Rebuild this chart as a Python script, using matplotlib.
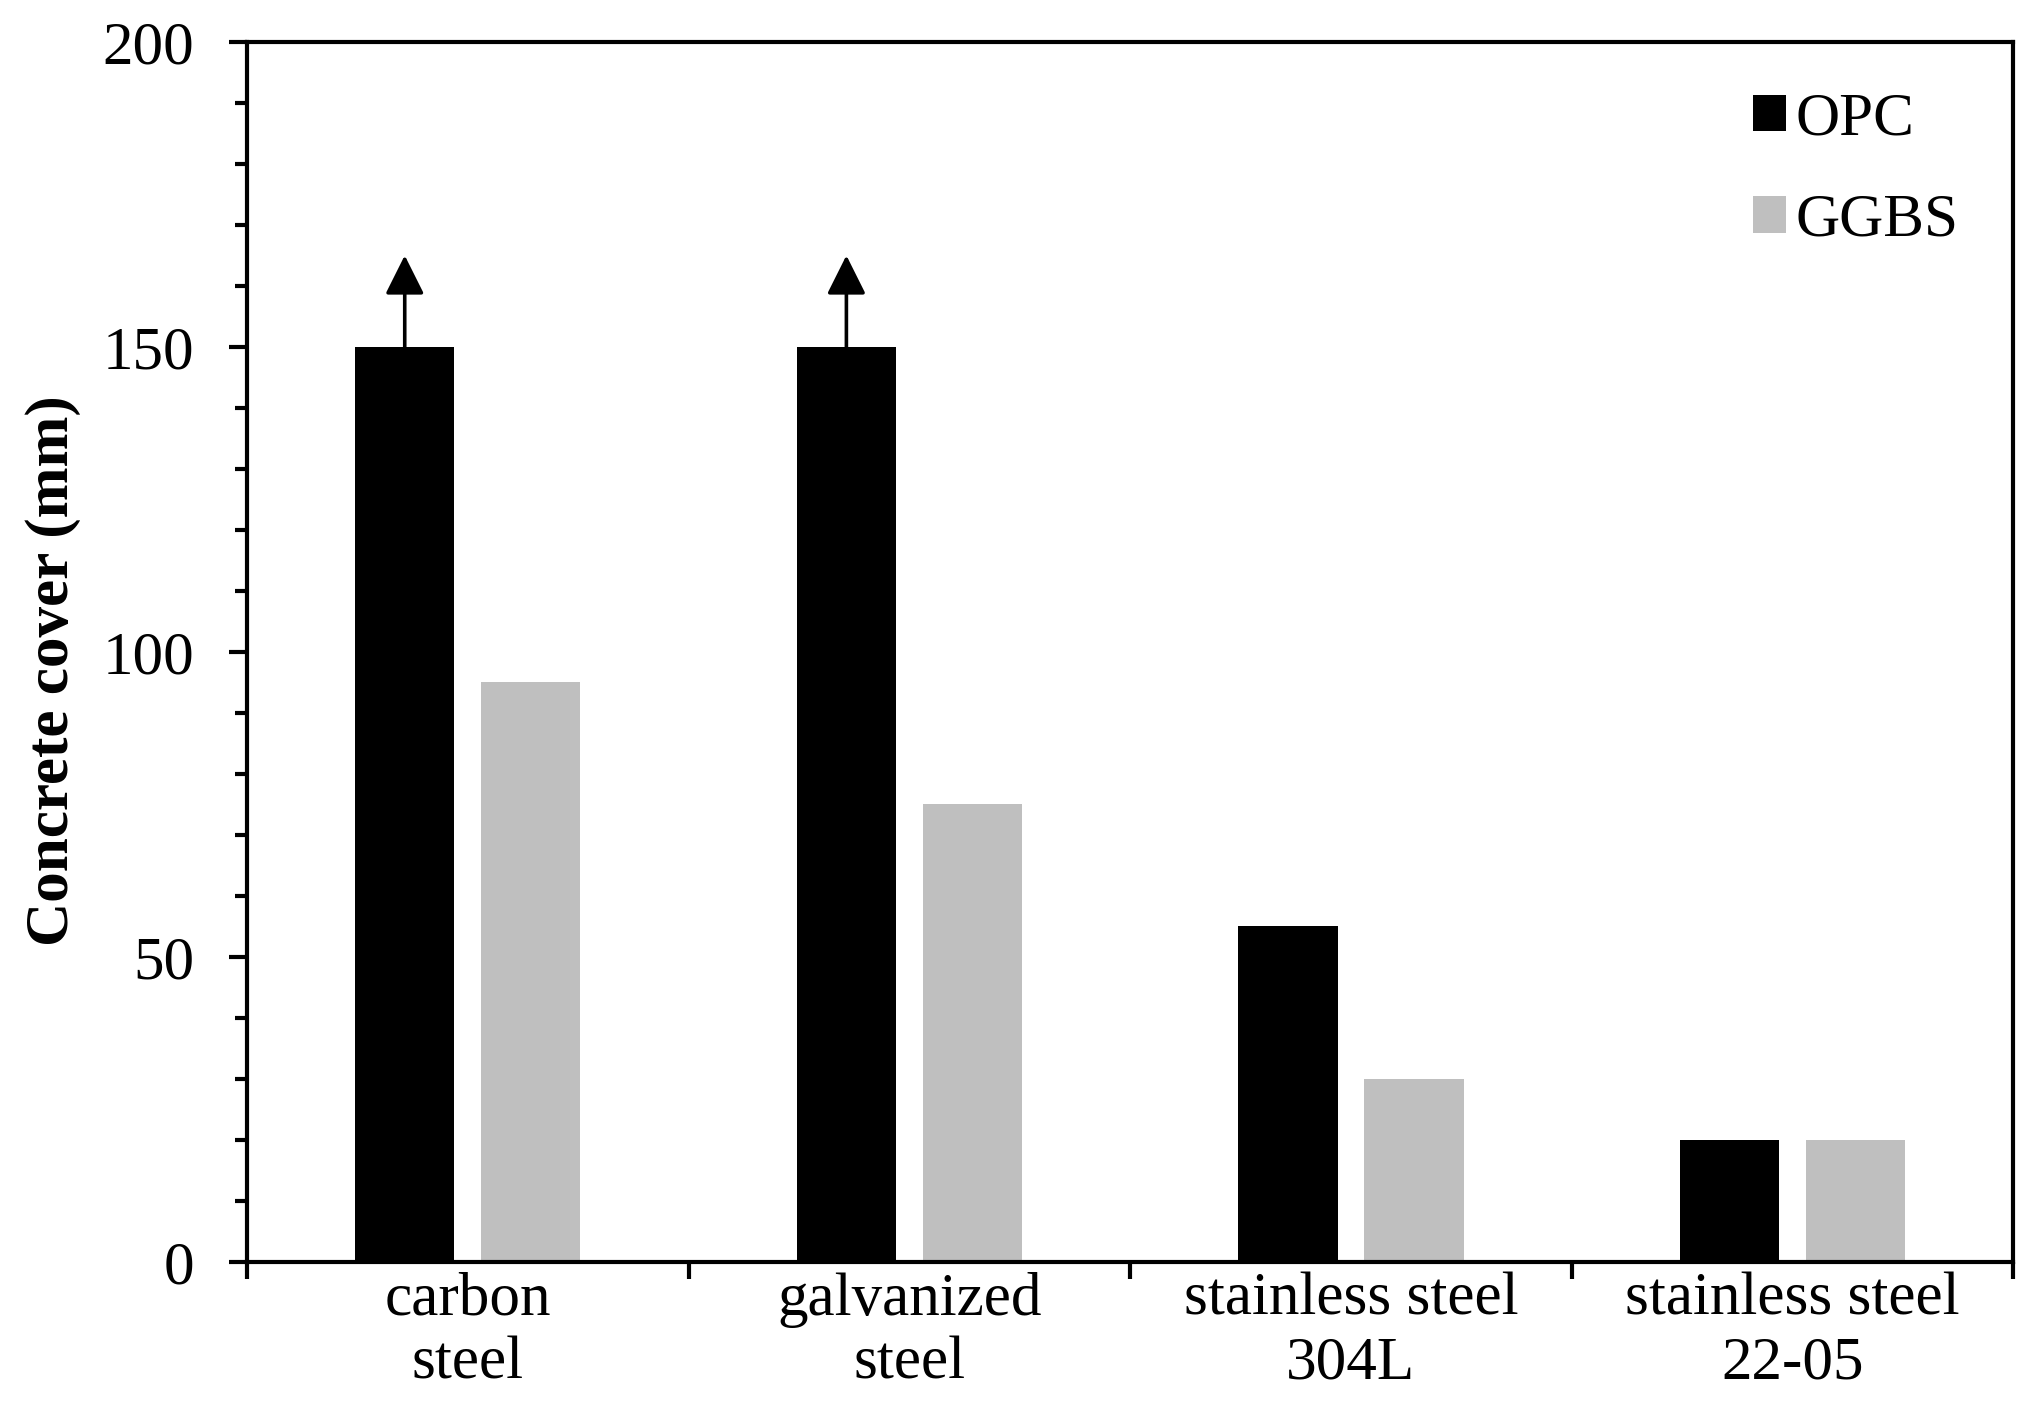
import numpy as np
import matplotlib
matplotlib.use("Agg")
import matplotlib.pyplot as plt
from matplotlib.ticker import MultipleLocator, FixedLocator

plt.rcParams['font.family'] = ['Liberation Serif', 'DejaVu Serif']

# data
categories = ['carbon\nsteel', 'galvanized\nsteel', 'stainless steel\n304L', 'stainless steel\n22-05']
opc = [150, 150, 55, 20]
ggbs = [95, 75, 30, 20]
opc_lower_bound = [True, True, False, False]   # arrow = value is at least this
arrow_tip = 165

bar_w = 0.225
offset = 0.1425
fs = 44

fig = plt.figure(figsize=(20.4, 14.17), dpi=100)
ax = fig.add_axes([0.121, 0.1094, 0.866, 0.861])

x = np.arange(len(categories))
ax.bar(x - offset, opc, bar_w, color='#000000', label='OPC')
ax.bar(x + offset, ggbs, bar_w, color='#bfbfbf', label='GGBS')

# lower-bound arrows on OPC bars
for xi, v, lb in zip(x, opc, opc_lower_bound):
    if lb:
        ax.annotate('', xy=(xi - offset, arrow_tip), xytext=(xi - offset, v),
                    arrowprops=dict(arrowstyle='-|>,head_length=0.4,head_width=0.2',
                                    mutation_scale=60, lw=2.6, color='k',
                                    shrinkA=0, shrinkB=0))

ax.set_xlim(-0.5, len(categories) - 0.5)
ax.set_ylim(0, 200)

# x: ticks on group borders, labels at group centres
ax.xaxis.set_major_locator(FixedLocator(np.arange(-0.5, len(categories), 1.0)))
ax.xaxis.set_minor_locator(FixedLocator(x))
ax.set_xticklabels([])
ax.set_xticklabels(categories, minor=True)
ax.tick_params(axis='x', which='major', direction='out', length=12, width=3)
ax.tick_params(axis='x', which='minor', length=0, pad=7, labelsize=fs)

# y
ax.yaxis.set_major_locator(MultipleLocator(50))
ax.yaxis.set_minor_locator(MultipleLocator(10))
ax.tick_params(axis='y', which='major', direction='out', length=13, width=3,
               pad=25, labelsize=fs)
ax.tick_params(axis='y', which='minor', direction='out', length=9, width=3)

for sp in ax.spines.values():
    sp.set_linewidth(3)

ax.set_ylabel('Concrete cover (mm)', fontsize=fs, fontweight='bold')
ax.yaxis.set_label_coords(-0.094, 0.485)

ax.legend(loc='upper right', bbox_to_anchor=(1.0, 1.004), frameon=False,
          fontsize=fs, handlelength=0.55, handleheight=0.55, handletextpad=0.15,
          labelspacing=0.75)

fig.savefig('out.png', dpi=100)
